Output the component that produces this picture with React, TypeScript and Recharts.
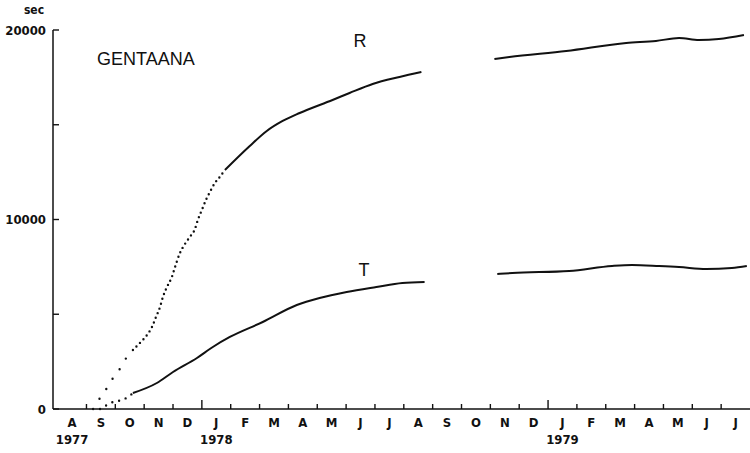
import React from "react";
import { LineChart, Line, XAxis, YAxis } from "recharts";

// x = months since 1 Aug 1977, y = seconds
const MONTH_LABELS = ["A", "S", "O", "N", "D", "J", "F", "M", "A", "M", "J", "J", "A", "S", "O", "N", "D", "J", "F", "M", "A", "M", "J", "J"];
const YEAR_LABELS = ["1977", "1978", "1979"];
const YEAR_AT = [0, 5, 17];
const Y_TICKS = [0, 5000, 10000, 15000, 20000];
const Y_LABELED = [0, 10000, 20000];

const rDotSparseM = [1.23, 1.47, 1.71, 1.92, 2.2, 2.4, 2.61];
const rDotSparseV = [0, 580, 1108, 1636, 2216, 2744, 3113];
const rDotDenseM = [2.61, 2.85, 3.1, 3.27, 3.41, 3.55, 3.65, 3.79, 3.96, 4.07, 4.24, 4.41, 4.58, 4.76, 4.86, 5.0, 5.14, 5.28, 5.45, 5.62, 5.8];
const rDotDenseV = [3113, 3483, 3905, 4327, 4855, 5383, 5910, 6438, 6966, 7493, 8232, 8700, 9076, 9500, 9974, 10501, 11029, 11451, 11926, 12243, 12612];
const rSolidM = [5.8, 6.66, 7.25, 7.8, 8.39, 9.53, 10.12, 10.92, 11.85, 12.61, 13.8, 15.14, 15.66, 17.63, 19.71, 20.74, 21.54, 22.23, 22.92, 23.79];
const rSolidV = [12612, 13879, 14670, 15198, 15620, 16306, 16675, 17150, 17520, 17783, null, 18470, 18575, 18890, 19314, 19420, 19578, 19473, 19525, 19736];

const tDotM = [1.47, 1.71, 1.92, 2.23, 2.44, 2.61];
const tDotV = [0, 211, 370, 475, 633, 844];
const tSolidM = [2.61, 3.44, 4.0, 4.83, 5.38, 5.97, 7.11, 8.29, 9.08, 10.02, 11.05, 11.95, 12.72, 13.9, 15.24, 15.76, 17.73, 19.22, 19.91, 20.85, 21.54, 22.48, 23.37, 23.89];
const tSolidV = [844, 1372, 1953, 2691, 3272, 3800, 4591, 5488, 5857, 6174, 6438, 6649, 6702, null, 7124, 7177, 7282, 7546, 7599, 7546, 7493, 7388, 7440, 7546];

const toRows = (ms: number[], vs: (number | null)[]) => ms.map((m, i) => ({ m, v: vs[i] }));

// month boundaries (tick marks) and mid-months (letters) on one axis
const xTicks = MONTH_LABELS.flatMap((_, i) => (i === 0 ? [0.5] : [i, i + 0.5]));

const INK = "#111";
const AXIS_FONT = "'DejaVu Sans Condensed', 'DejaVu Sans', sans-serif";

const XTick = (props: any) => {
  const { x, y, payload } = props;
  const v = payload.value;
  const axisY = y - 1;
  if (Number.isInteger(v)) {
    const len = v === 5 || v === 17 ? 9 : 5;
    return <line x1={x} x2={x} y1={axisY} y2={axisY - len} stroke={INK} strokeWidth={1.4} />;
  }
  const idx = Math.floor(v);
  const yi = YEAR_AT.indexOf(idx);
  return (
    <g>
      <text x={x} y={axisY + 18} textAnchor="middle" fontSize={13} fontWeight="bold" fontFamily={AXIS_FONT} fill={INK}>
        {MONTH_LABELS[idx]}
      </text>
      {yi >= 0 && (
        <text x={x} y={axisY + 35} textAnchor="middle" fontSize={13} fontWeight="bold" fontFamily={AXIS_FONT} fill={INK}>
          {YEAR_LABELS[yi]}
        </text>
      )}
    </g>
  );
};

const YTick = (props: any) => {
  const { x, y, payload } = props;
  const axisX = x + 1;
  return (
    <g>
      <line x1={axisX} x2={axisX + 6} y1={y} y2={y} stroke={INK} strokeWidth={1.4} />
      {Y_LABELED.includes(payload.value) && (
        <text x={axisX - 7} y={y} dy={4.5} textAnchor="end" fontSize={13} fontWeight="bold" fontFamily={AXIS_FONT} fill={INK}>
          {payload.value}
        </text>
      )}
    </g>
  );
};

export default function App() {
  return (
    <div style={{ position: "absolute", left: 0, top: 0, width: 750, height: 453, background: "#fff" }}>
      <LineChart width={750} height={453} margin={{ top: 30, right: 0, bottom: 0, left: 0 }}>
        <XAxis
          type="number"
          dataKey="m"
          domain={[-0.16, 24]}
          allowDataOverflow
          ticks={xTicks}
          height={44}
          tickSize={1}
          tickMargin={0}
          tickLine={false}
          tick={<XTick />}
          axisLine={{ stroke: INK, strokeWidth: 1.5 }}
          interval={0}
        />
        <YAxis
          type="number"
          domain={[0, 20000]}
          ticks={Y_TICKS}
          width={53}
          tickSize={1}
          tickMargin={0}
          tickLine={false}
          tick={<YTick />}
          axisLine={{ stroke: INK, strokeWidth: 1.5 }}
          interval={0}
        />
        <Line data={toRows(rDotSparseM, rDotSparseV)} dataKey="v" type="monotone" stroke={INK} strokeWidth={2.4} strokeDasharray="0 12" strokeLinecap="round" dot={false} isAnimationActive={false} />
        <Line data={toRows(rDotDenseM, rDotDenseV)} dataKey="v" type="monotone" stroke={INK} strokeWidth={2.4} strokeDasharray="0 5" strokeLinecap="round" dot={false} isAnimationActive={false} />
        <Line data={toRows(rSolidM, rSolidV)} dataKey="v" type="monotone" stroke={INK} strokeWidth={2} dot={false} isAnimationActive={false} />
        <Line data={toRows(tDotM, tDotV)} dataKey="v" type="monotone" stroke={INK} strokeWidth={2.4} strokeDasharray="0 7" strokeLinecap="round" dot={false} isAnimationActive={false} />
        <Line data={toRows(tSolidM, tSolidV)} dataKey="v" type="monotone" stroke={INK} strokeWidth={2} dot={false} isAnimationActive={false} />
        <text x={34} y={14} textAnchor="middle" fontSize={12} fontWeight="bold" fontFamily={AXIS_FONT} fill={INK}>sec</text>
        <text x={97} y={65} fontSize={18} fontFamily="'Liberation Sans', sans-serif" fill={INK}>GENTAANA</text>
        <text x={360} y={47} textAnchor="middle" fontSize={18} fontFamily="'Liberation Sans', sans-serif" fill={INK}>R</text>
        <text x={364} y={276} textAnchor="middle" fontSize={18} fontFamily="'Liberation Sans', sans-serif" fill={INK}>T</text>
      </LineChart>
    </div>
  );
}
